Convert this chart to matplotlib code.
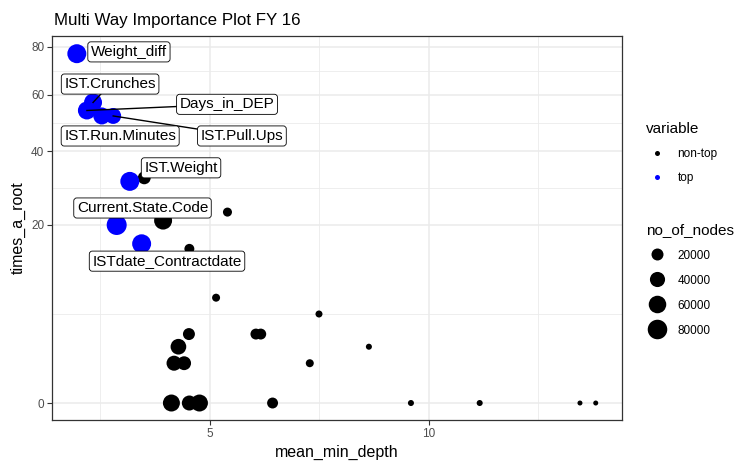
import numpy as np
import matplotlib.pyplot as plt
from matplotlib.lines import Line2D

plt.rcParams['font.family'] = ['Liberation Sans', 'DejaVu Sans']

# top variables (labelled, blue)
top_names = ['Weight_diff', 'IST.Crunches', 'Days_in_DEP', 'IST.Run.Minutes',
             'IST.Pull.Ups', 'IST.Weight', 'Current.State.Code', 'ISTdate_Contractdate']
top_depth = [1.96, 2.33, 2.19, 2.53, 2.79, 3.17, 2.87, 3.44]
top_root = [77, 57, 54, 52, 52, 31, 20, 16]
top_nodes = [74000, 64000, 64000, 55000, 46000, 74000, 85000, 74000]

# non-top variables (black)
nt_depth = [3.50, 3.93, 5.40, 4.53, 5.14, 7.49, 4.52, 6.05, 6.16, 8.63, 4.28,
            4.18, 4.41, 7.28, 4.12, 4.53, 4.76, 6.43, 9.59, 11.16, 13.45, 13.81]
nt_root = [32, 21, 23, 15, 7, 5, 3, 3, 3, 2, 2, 1, 1, 1, 0, 0, 0, 0, 0, 0, 0, 0]
nt_nodes = [25000, 64000, 8000, 11000, 5300, 3500, 20000, 15000, 15000, 2400, 44000,
            39000, 31000, 5300, 55000, 39000, 55000, 15000, 2400, 2400, 2000, 2000]

size_breaks = [20000, 40000, 60000, 80000]
x_ticks = [5, 10]
y_ticks = [0, 20, 40, 60, 80]

# label box positions (data coords) and whether a connector is drawn
label_pos = {
    'Weight_diff': (3.15, 77.8, False),
    'IST.Crunches': (2.72, 64.2, True),
    'Days_in_DEP': (5.39, 56.3, True),
    'IST.Run.Minutes': (2.95, 45.0, False),
    'IST.Pull.Ups': (5.73, 45.0, True),
    'IST.Weight': (4.34, 34.9, False),
    'Current.State.Code': (3.46, 24.0, False),
    'ISTdate_Contractdate': (4.02, 12.7, False),
}

all_nodes = np.array(top_nodes + nt_nodes, dtype=float)
vmin, vmax = all_nodes.min(), all_nodes.max()


def marker_area(v):
    # ggplot-like area scaling, diameter in px -> points^2
    v = np.asarray(v, dtype=float)
    d_px = 5 + 15 * np.sqrt((v - vmin) / (vmax - vmin))
    return (d_px * 0.72) ** 2


def fwd(y):
    y = np.asarray(y, dtype=float)
    return np.sign(y) * np.sqrt(np.abs(y))


def inv(y):
    y = np.asarray(y, dtype=float)
    return np.sign(y) * y ** 2


fig = plt.figure(figsize=(7.37, 4.62), dpi=100)
ax = fig.add_axes([52 / 737, 1 - 420 / 462, 570 / 737, 384 / 462])
ax.set_yscale('function', functions=(fwd, inv))

ax.set_xlim(1.393, 14.41)
ax.set_ylim(-0.182, 85.0)

ax.set_xticks(x_ticks)
ax.set_yticks(y_ticks)
ax.set_xticks([2.5, 7.5, 12.5], minor=True)
sq = np.sqrt(y_ticks)
ax.set_yticks(((sq[:-1] + sq[1:]) / 2) ** 2, minor=True)
ax.grid(which='major', color='#EBEBEB', lw=1.1, zorder=0)
ax.grid(which='minor', color='#EBEBEB', lw=0.6, zorder=0)
ax.set_axisbelow(True)
ax.tick_params(which='major', length=3.5, width=0.8, color='#333333',
               labelsize=8.5, labelcolor='#4D4D4D', pad=2)
ax.tick_params(which='minor', length=0)
for s in ax.spines.values():
    s.set_color('#333333')
    s.set_linewidth(0.9)

ax.scatter(nt_depth, nt_root, s=marker_area(nt_nodes), color='black', lw=0, zorder=2)
ax.scatter(top_depth, top_root, s=marker_area(top_nodes), color='blue', lw=0, zorder=3)

for name, x, y in zip(top_names, top_depth, top_root):
    lx, ly, seg = label_pos[name]
    if seg:
        ax.plot([x, lx], [y, ly], color='black', lw=1, zorder=4)
    ax.text(lx, ly, name, fontsize=11, ha='center', va='center', zorder=5,
            bbox=dict(boxstyle='round,pad=0.2,rounding_size=0.2', fc='white',
                      ec='black', lw=0.6))

ax.set_xlabel('mean_min_depth', fontsize=11.5, labelpad=4)
ax.set_ylabel('times_a_root', fontsize=11.5, labelpad=4)
fig.text(54 / 737, 1 - 25 / 462, 'Multi Way Importance Plot FY 16', fontsize=12.2,
         ha='left', va='baseline')

h1 = [Line2D([], [], ls='', marker='o', color=c, markersize=3.6, mew=0)
      for c in ['black', 'blue']]
leg1 = fig.legend(h1, ['non-top', 'top'], title='variable', loc='upper left',
                  bbox_to_anchor=(635 / 737, 1 - 111 / 462), frameon=False,
                  fontsize=8.5, title_fontsize=11, labelspacing=1.05,
                  handletextpad=0.7, alignment='left', handlelength=2.0)
h2 = [Line2D([], [], ls='', marker='o', color='black', mew=0,
             markersize=float(np.sqrt(marker_area(b)))) for b in size_breaks]
leg2 = fig.legend(h2, [str(b) for b in size_breaks], title='no_of_nodes',
                  loc='upper left', bbox_to_anchor=(635 / 737, 1 - 212 / 462),
                  frameon=False, fontsize=8.5, title_fontsize=11, labelspacing=1.1,
                  handletextpad=0.7, alignment='left', handlelength=2.0)

fig.savefig('out.png', dpi=100)
